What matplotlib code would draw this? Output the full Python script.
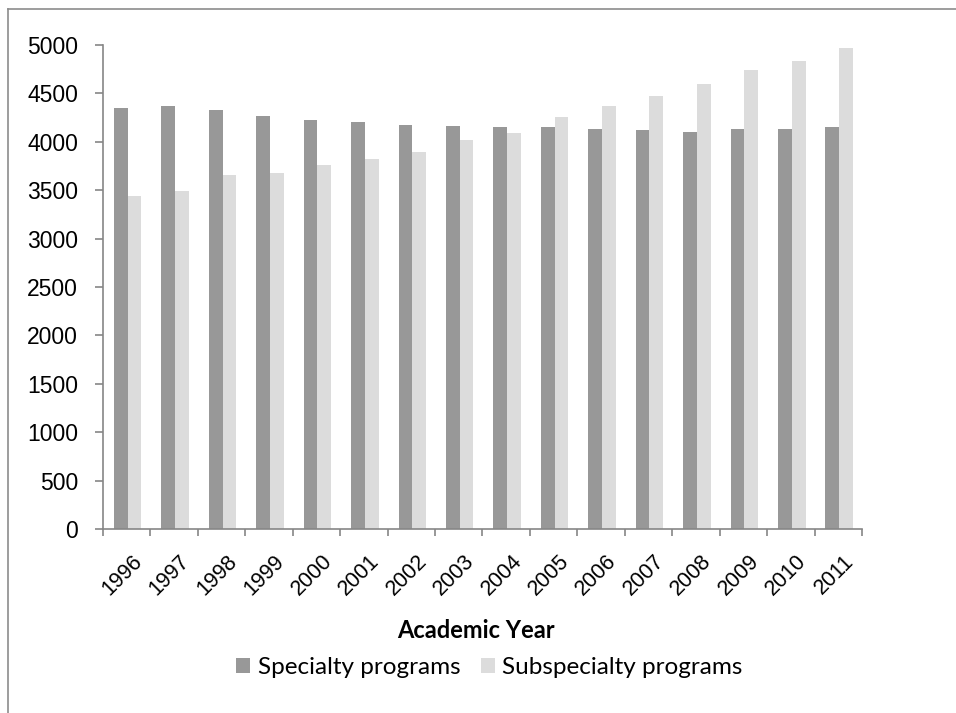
import matplotlib
matplotlib.use("Agg")
import matplotlib.pyplot as plt
from matplotlib.lines import Line2D
from matplotlib.patches import Patch
from matplotlib.transforms import ScaledTranslation

years = ["1996", "1997", "1998", "1999", "2000", "2001", "2002", "2003",
         "2004", "2005", "2006", "2007", "2008", "2009", "2010", "2011"]
specialty = [4352, 4366, 4331, 4265, 4228, 4200, 4172, 4166,
             4148, 4148, 4135, 4120, 4100, 4128, 4128, 4155]
subspecialty = [3434, 3489, 3651, 3675, 3755, 3824, 3889, 4021,
                4093, 4252, 4366, 4469, 4596, 4741, 4834, 4963]
y_ticks = [0, 500, 1000, 1500, 2000, 2500, 3000, 3500, 4000, 4500, 5000]

dark = "#989898"
light = "#dcdcdc"
axis_grey = "#868686"
label_font = ["Liberation Sans", "DejaVu Sans"]
title_font = ["Lato", "DejaVu Sans"]

fig = plt.figure(figsize=(9.56, 7.13), dpi=100)
ax = fig.add_axes([103 / 956, 1 - 529.3 / 713, (862 - 103) / 956, (529.3 - 44.7) / 713])

x = list(range(len(years)))
w = 0.29
ax.bar([i - w / 2 + 0.02 for i in x], specialty, width=w, color=dark, linewidth=0)
ax.bar([i + w / 2 + 0.02 for i in x], subspecialty, width=w, color=light, linewidth=0)

ax.set_xlim(-0.5, len(years) - 0.5)
ax.set_ylim(0, 5000)

for s in ("top", "right"):
    ax.spines[s].set_visible(False)
for s in ("left", "bottom"):
    ax.spines[s].set_color(axis_grey)
    ax.spines[s].set_linewidth(1.2)

ax.set_yticks(y_ticks)
ax.set_yticklabels([str(v) for v in y_ticks], fontfamily=label_font, fontsize=16.5)
ax.tick_params(axis="y", length=5.5, width=1.2, color=axis_grey, pad=12.5)

ax.set_xticks(x)
ax.set_xticks([i - 0.5 for i in range(len(years) + 1)], minor=True)
ax.tick_params(axis="x", which="major", length=0, pad=15.6)
ax.tick_params(axis="x", which="minor", length=5, width=1.2, color=axis_grey)
ax.set_xticklabels(years, rotation=45, ha="right", va="top", rotation_mode="anchor",
                   fontfamily=label_font, fontsize=15.5)
shift = ScaledTranslation(5 / 100, 0, fig.dpi_scale_trans)
for lbl in ax.get_xticklabels():
    lbl.set_transform(lbl.get_transform() + shift)

fig.text(476 / 956, 1 - 631 / 713, "Academic Year", ha="center", va="center",
         fontfamily=title_font, fontweight="bold", fontsize=17)

handles = [Patch(facecolor=dark, edgecolor="none", label="Specialty programs"),
           Patch(facecolor=light, edgecolor="none", label="Subspecialty programs")]
fig.legend(handles=handles, loc="center", bbox_to_anchor=(489.5 / 956, 1 - 668 / 713),
           ncol=2, frameon=False, prop={"family": title_font, "size": 17.5},
           handlelength=0.58, handleheight=0.58, handletextpad=0.3,
           columnspacing=0.85, borderpad=0, borderaxespad=0)

# outer chart border (top and left edges)
fig.add_artist(Line2D([8 / 956, 1.0], [1 - 8.5 / 713, 1 - 8.5 / 713],
                      transform=fig.transFigure, color="#8c8c8c", linewidth=1.2))
fig.add_artist(Line2D([8 / 956, 8 / 956], [0.0, 1 - 8.5 / 713],
                      transform=fig.transFigure, color="#8c8c8c", linewidth=1.2))

fig.savefig("out.png", dpi=100)
